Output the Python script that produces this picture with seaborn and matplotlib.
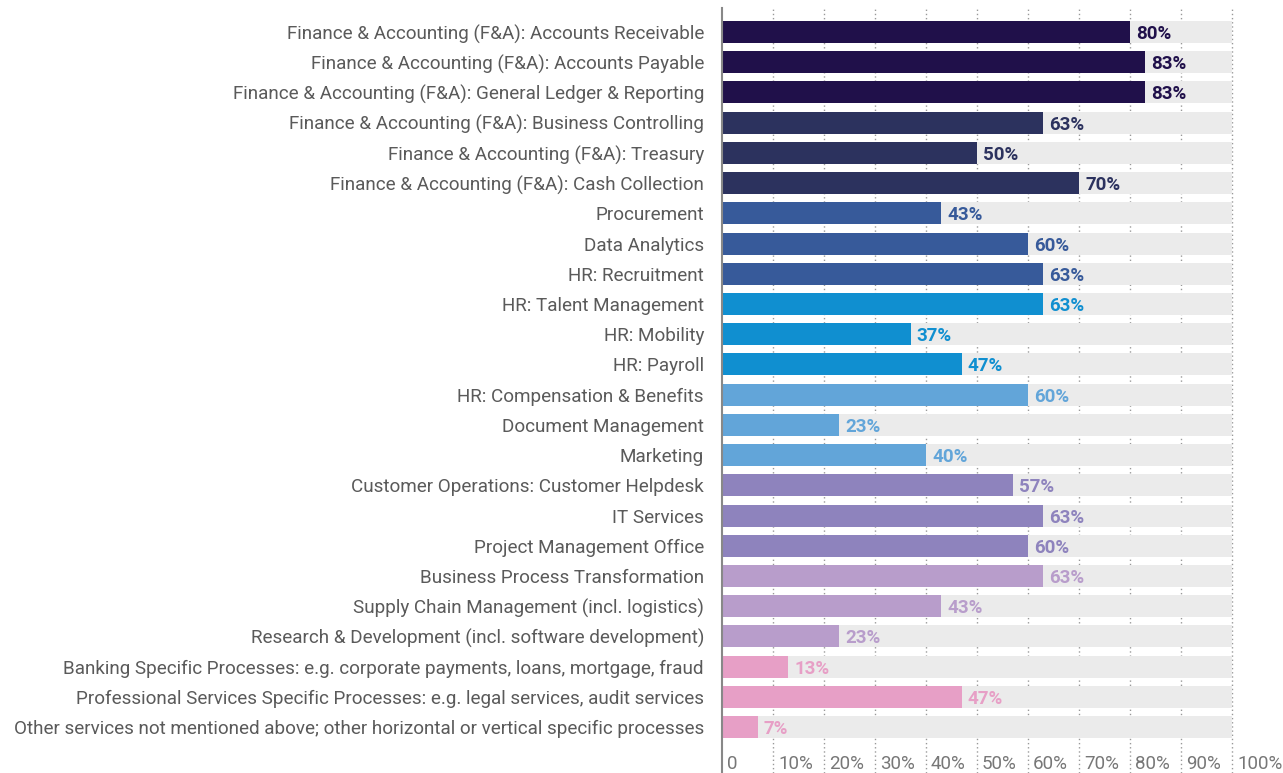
import pandas as pd
import seaborn as sns
import matplotlib.pyplot as plt
import matplotlib.transforms as mtransforms

categories = [
    "Finance & Accounting (F&A): Accounts Receivable",
    "Finance & Accounting (F&A): Accounts Payable",
    "Finance & Accounting (F&A): General Ledger & Reporting",
    "Finance & Accounting (F&A): Business Controlling",
    "Finance & Accounting (F&A): Treasury",
    "Finance & Accounting (F&A): Cash Collection",
    "Procurement",
    "Data Analytics",
    "HR: Recruitment",
    "HR: Talent Management",
    "HR: Mobility",
    "HR: Payroll",
    "HR: Compensation & Benefits",
    "Document Management",
    "Marketing",
    "Customer Operations: Customer Helpdesk",
    "IT Services",
    "Project Management Office",
    "Business Process Transformation",
    "Supply Chain Management (incl. logistics)",
    "Research & Development (incl. software development)",
    "Banking Specific Processes: e.g. corporate payments, loans, mortgage, fraud",
    "Professional Services Specific Processes: e.g. legal services, audit services",
    "Other services not mentioned above; other horizontal or vertical specific processes",
]
values = [80, 83, 83, 63, 50, 70, 43, 60, 63, 63, 37, 47, 60, 23, 40, 57, 63, 60, 63, 43, 23, 13, 47, 7]
group_colors = ["#20104a", "#2c325e", "#375a9a", "#108fd0", "#62a5d9", "#8e83bd", "#b89dcb", "#e79fc6"]
colors = [c for c in group_colors for _ in range(3)]
ticks = [0, 10, 20, 30, 40, 50, 60, 70, 80, 90, 100]
tick_labels = ["0"] + [f"{t}%" for t in ticks[1:]]

df = pd.DataFrame({"category": categories, "value": values, "full": 100})

sns.set_theme(style="white")
plt.rcParams["font.family"] = ["Roboto", "DejaVu Sans"]

fig = plt.figure(figsize=(12.83, 7.73), dpi=100)
ax = fig.add_axes([722 / 1283, 0, (1232 - 722) / 1283, 765 / 773])

# dotted vertical grid, visible only in the gaps between bars
for t in ticks[1:]:
    ax.axvline(t, color="#999999", lw=1, ls=(0, (1, 2)), zorder=0, clip_on=False)

sns.barplot(data=df, y="category", x="full", color="#ebebeb", width=0.73,
            saturation=1, linewidth=0, ax=ax, zorder=1)
sns.barplot(data=df, y="category", x="value", hue="category", palette=colors,
            width=0.73, saturation=1, linewidth=0, legend=False, ax=ax, zorder=2)

for i, (v, c) in enumerate(zip(values, colors)):
    ax.text(v + 1.2, i, f"{v}%", va="center_baseline", ha="left", color=c,
            fontsize=13.5, fontweight="bold", zorder=3)

ax.set_xlim(0, 100)
ax.set_ylim(24.52, -0.795)
ax.set_xlabel("")
ax.set_ylabel("")
ax.set_xticks(ticks)
ax.set_xticklabels(tick_labels, ha="left")
ax.tick_params(axis="x", length=0, pad=-13, labelsize=13.5, labelcolor="#777777")
ax.tick_params(axis="y", length=0, pad=13, labelsize=13.6, labelcolor="#5a5a5a")
offset = mtransforms.ScaledTranslation(5 / 100, 0, fig.dpi_scale_trans)
for lbl in ax.get_xticklabels():
    lbl.set_transform(lbl.get_transform() + offset)

for s in ["top", "right", "bottom"]:
    ax.spines[s].set_visible(False)
ax.spines["left"].set_color("#888888")
ax.spines["left"].set_linewidth(1.5)

fig.savefig("out.png", dpi=100)
